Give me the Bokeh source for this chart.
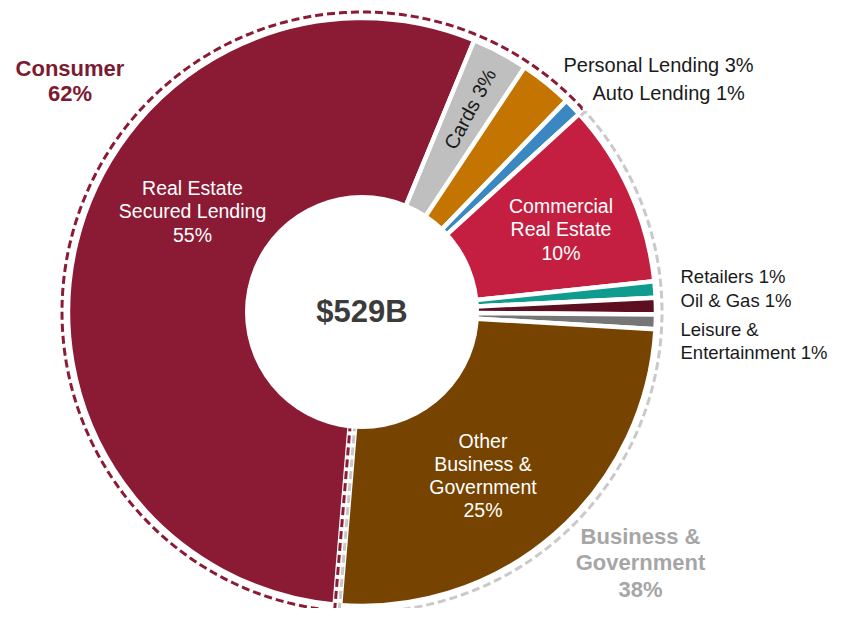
import math
import numpy as np
from bokeh.plotting import figure
from bokeh.models import Range1d
from bokeh.embed import file_html
from bokeh.resources import INLINE
from bokeh.core.properties import value

# ---------------- data ----------------
segments = ["Real Estate Secured Lending", "Cards", "Personal Lending", "Auto Lending",
            "Commercial Real Estate", "Retailers", "Oil & Gas", "Leisure & Entertainment",
            "Other Business & Government"]
shares = [54.9, 3.1, 2.9, 1.0, 10.1, 0.9, 0.9, 0.8, 25.4]
segment_group = ["Consumer", "Consumer", "Consumer", "Consumer",
                 "Business & Government", "Business & Government", "Business & Government",
                 "Business & Government", "Business & Government"]
segment_labels = ["Real Estate\nSecured Lending\n55%", "Cards 3%", "Personal Lending 3%",
                  "Auto Lending 1%", "Commercial\nReal Estate\n10%", "Retailers 1%",
                  "Oil & Gas 1%", "Leisure &\nEntertainment 1%",
                  "Other\nBusiness &\nGovernment\n25%"]
groups = ["Consumer", "Business & Government"]
group_labels = ["Consumer\n62%", "Business &\nGovernment\n38%"]
total_label = "$529B"

# ---------------- style / layout ----------------
colors = ["#8B1A34", "#BFBFBF", "#C47400", "#3A87C1", "#C41F40",
          "#0F9B8E", "#5B0F20", "#767676", "#764400"]
group_colors = ["#8B1A34", "#C9C9C9"]
group_text_colors = ["#7B1B32", "#A6A6A6"]

FIG_W, FIG_H = 830, 608
TOP = 624
def Y(py):
    return TOP - py

CX, CY = 361.5, Y(311.5)
R_OUT, R_IN, R_HOLE, R_RING = 294, 110, 117, 300
START = 184.8  # clockwise degrees from 12 o'clock where first slice begins
FONT = value("Liberation Sans")

def pt(theta, r):
    t = math.radians(theta)
    return CX + r * math.sin(t), CY + r * math.cos(t)

def nrm(theta):
    t = math.radians(theta)
    return math.cos(t), -math.sin(t)

p = figure(width=FIG_W, height=FIG_H, x_range=Range1d(0, FIG_W), y_range=Range1d(TOP - FIG_H, TOP),
           output_backend="svg", toolbar_location=None,
           x_axis_location=None, y_axis_location=None, min_border=0)
p.grid.grid_line_color = None
p.outline_line_color = None
p.background_fill_color = "white"
p.border_fill_color = "white"

# slices
cum = np.concatenate([[0], np.cumsum(shares)[:-1]])
s_deg = START + cum * 3.6
e_deg = s_deg + np.array(shares) * 3.6
p.annular_wedge(x=CX, y=CY, inner_radius=R_IN, outer_radius=R_OUT,
                start_angle=[math.radians(90 - s) for s in s_deg],
                end_angle=[math.radians(90 - e) for e in e_deg],
                direction="clock", fill_color=colors, line_color="white", line_width=4.5)

# group boundaries
g_share = [sum(s for s, g in zip(shares, segment_group) if g == name) for name in groups]
th0 = START
th1 = START + g_share[0] * 3.6

# white band at bottom boundary
a, b = pt(th0, 112), pt(th0, 297)
p.line([a[0], b[0]], [a[1], b[1]], line_color="white", line_width=10, line_cap="butt")

d = 2.3
delta = math.degrees(d / R_RING)

def off(P, n, k):
    return P[0] + k * d * n[0], P[1] + k * d * n[1]

# consumer outline
n0, n1 = nrm(th0), nrm(th1)
xs, ys = [], []
for P in [off(pt(th0, 112), n0, 1), off(pt(th0, R_RING), n0, 1)]:
    xs.append(P[0]); ys.append(P[1])
for t in np.linspace(th0 + delta, th1 - delta, 300):
    P = pt(t, R_RING); xs.append(P[0]); ys.append(P[1])
for P in [off(pt(th1, R_RING), n1, -1), off(pt(th1, 294), n1, -1)]:
    xs.append(P[0]); ys.append(P[1])
p.line(xs, ys, line_color=group_colors[0], line_width=3, line_dash="8 4")

# business outline
xs, ys = [], []
for P in [off(pt(th1, 294), n1, 1), off(pt(th1, R_RING), n1, 1)]:
    xs.append(P[0]); ys.append(P[1])
for t in np.linspace(th1 + delta, th0 + 360 - delta, 300):
    P = pt(t, R_RING); xs.append(P[0]); ys.append(P[1])
for P in [off(pt(th0, R_RING), n0, -1), off(pt(th0, 112), n0, -1)]:
    xs.append(P[0]); ys.append(P[1])
p.line(xs, ys, line_color=group_colors[1], line_width=3, line_dash="8 4")

# hole
p.circle(x=[CX], y=[CY], radius=R_HOLE, fill_color="white", line_color=None)

# inside labels (white)
inside_idx = [0, 4, 8]
inside_pos = [(192, 211), (560.5, 229), (482.5, 475)]
p.text(x=[q[0] for q in inside_pos], y=[Y(q[1]) for q in inside_pos],
       text=[segment_labels[i] for i in inside_idx], text_font=FONT,
       text_font_size="19.5px", text_color="white", text_align="center",
       text_baseline="middle", text_line_height=1.06)

# cards rotated label
mid = (s_deg[1] + e_deg[1]) / 2
cp = pt(mid, 230)
p.text(x=[cp[0]], y=[cp[1]], text=[segment_labels[1]], text_font=FONT,
       text_font_size="20px", text_color="#1A1A1A", text_align="center",
       text_baseline="middle", angle=math.radians(90 - mid))

# outside labels (top right)
out_idx = [2, 3]
out_pos = [(563, 64.5), (592, 92.5)]
p.text(x=[q[0] for q in out_pos], y=[Y(q[1]) for q in out_pos],
       text=[segment_labels[i] for i in out_idx], text_font=FONT,
       text_font_size="20px", text_color="#1A1A1A", text_align="left",
       text_baseline="middle")

# outside labels (right)
out_idx2 = [5, 6, 7]
out_pos2 = [(680, 275.5), (680, 300), (680, 340.5)]
p.text(x=[q[0] for q in out_pos2], y=[Y(q[1]) for q in out_pos2],
       text=[segment_labels[i] for i in out_idx2], text_font=FONT,
       text_font_size="18.5px", text_color="#1A1A1A", text_align="left",
       text_baseline="middle", text_line_height=1.06)

# center total
p.text(x=[CX], y=[Y(311)], text=[total_label], text_font=FONT, text_font_size="31px",
       text_font_style="bold", text_color="#3B3B3B", text_align="center",
       text_baseline="middle")

# group labels
p.text(x=[69.5], y=[Y(80.5)], text=[group_labels[0]],
       text_font=FONT, text_font_size="22px", text_font_style="bold",
       text_color=group_text_colors[0], text_align="center", text_baseline="middle",
       text_line_height=1.0)
p.text(x=[640], y=[Y(562)], text=[group_labels[1]],
       text_font=FONT, text_font_size="22px", text_font_style="bold",
       text_color=group_text_colors[1], text_align="center", text_baseline="middle",
       text_line_height=1.06)

open("out.html", "w").write(file_html(p, INLINE))
